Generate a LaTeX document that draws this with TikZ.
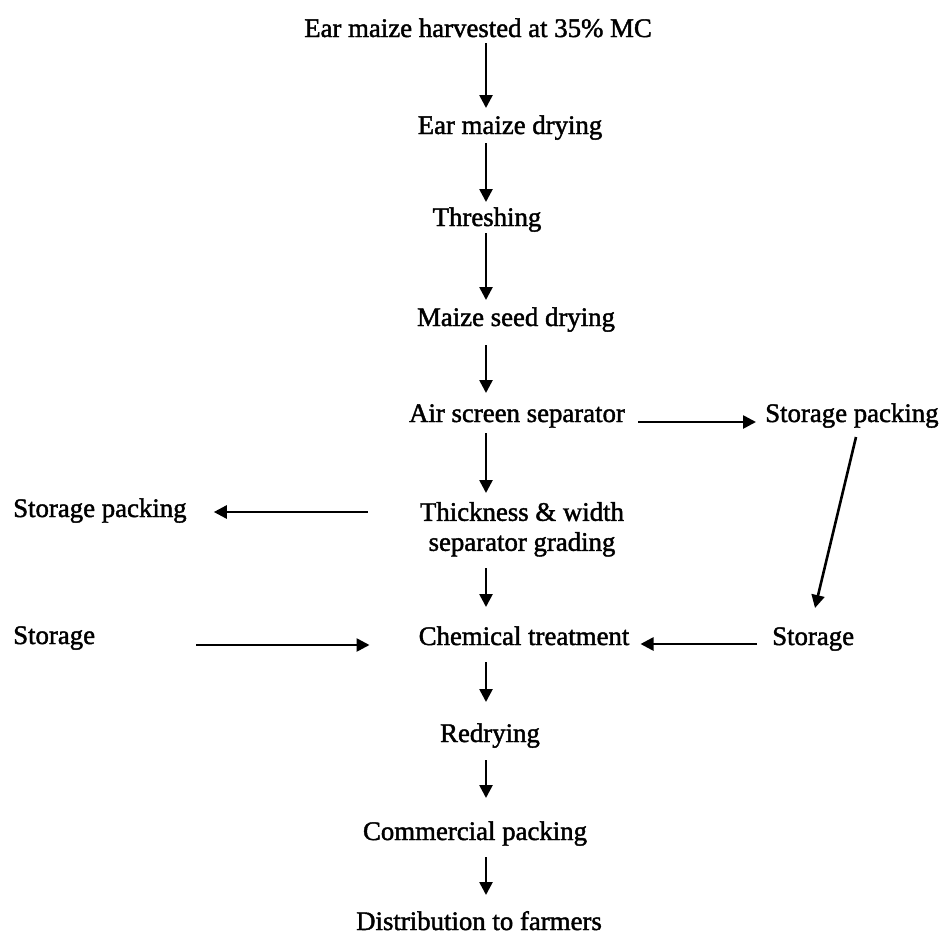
\documentclass[tikz,border=0pt]{standalone}
\usepackage{fontspec}
\setmainfont{Liberation Serif}[FakeBold=1.6]
\usetikzlibrary{arrows.meta,calc}
\begin{document}
\begin{tikzpicture}[x=1pt,y=-1pt,
  lbl/.style={inner sep=0pt, anchor=base, font=\fontsize{26.8}{30}\selectfont},
  arr/.style={line width=2.6pt, -{Triangle[length=13pt,width=13pt]}}]
\useasboundingbox[fill=white] (0,0) rectangle (945,935);
\coordinate (col) at (486,0);

% main process column
\node[lbl] (harv)    at (478,37)  {Ear maize harvested at 35\% MC};
\node[lbl] (eardry)  at (510,134) {Ear maize drying};
\node[lbl] (thresh)  at (487,226) {Threshing};
\node[lbl] (seeddry) at (516,326) {Maize seed drying};
\node[lbl] (air)     at (517,422) {Air screen separator};
\node[lbl, align=center, anchor=north] (grade) at (522,502) {Thickness \& width\\separator grading};
\node[lbl] (chem)    at (524,645) {Chemical treatment};
\node[lbl] (redry)   at (490,742) {Redrying};
\node[lbl] (comm)    at (475,840) {Commercial packing};
\node[lbl] (dist)    at (479,930) {Distribution to farmers};

% side branches
\node[lbl, anchor=base west] (packL) at (13,517)  {Storage packing};
\node[lbl, anchor=base west] (storL) at (13,644)  {Storage};
\node[lbl, anchor=base west] (packR) at (765,422) {Storage packing};
\node[lbl, anchor=base west] (storR) at (772,645) {Storage};

% vertical flow
\draw[arr] ($(harv.base -| col)+(0,6)$)     -- ($(eardry.base -| col)+(0,-26)$);
\draw[arr] ($(eardry.base -| col)+(0,9)$)   -- ($(thresh.base -| col)+(0,-24)$);
\draw[arr] ($(thresh.base -| col)+(0,7)$)   -- ($(seeddry.base -| col)+(0,-26)$);
\draw[arr] ($(seeddry.base -| col)+(0,19)$) -- ($(air.base -| col)+(0,-29)$);
\draw[arr] ($(air.base -| col)+(0,11)$)     -- ($(grade.north -| col)+(0,-9)$);
\draw[arr] ($(grade.north -| col)+(0,66)$)  -- ($(chem.base -| col)+(0,-38)$);
\draw[arr] ($(chem.base -| col)+(0,17)$)    -- ($(redry.base -| col)+(0,-40)$);
\draw[arr] ($(redry.base -| col)+(0,18)$)   -- ($(comm.base -| col)+(0,-42)$);
\draw[arr] ($(comm.base -| col)+(0,17)$)    -- ($(dist.base -| col)+(0,-35)$);

% branch connectors
\draw[arr] ($(air.base east)+(13,0)$)       -- ($(packR.base west)+(-9,0)$);
\draw[arr] ($(grade.north west)+(-52,10)$)  -- ($(packL.base east)+(27,-5)$);
\draw[arr] ($(storL.base east)+(101,1)$)    -- ($(chem.base west)+(-49,0)$);
\draw[arr] ($(storR.base west)+(-15,-1)$)   -- ($(chem.base east)+(11,-1)$);
\draw[arr] ($(packR.base west)+(91,15)$)    -- ($(storR.base west)+(43,-37)$);
\end{tikzpicture}
\end{document}
